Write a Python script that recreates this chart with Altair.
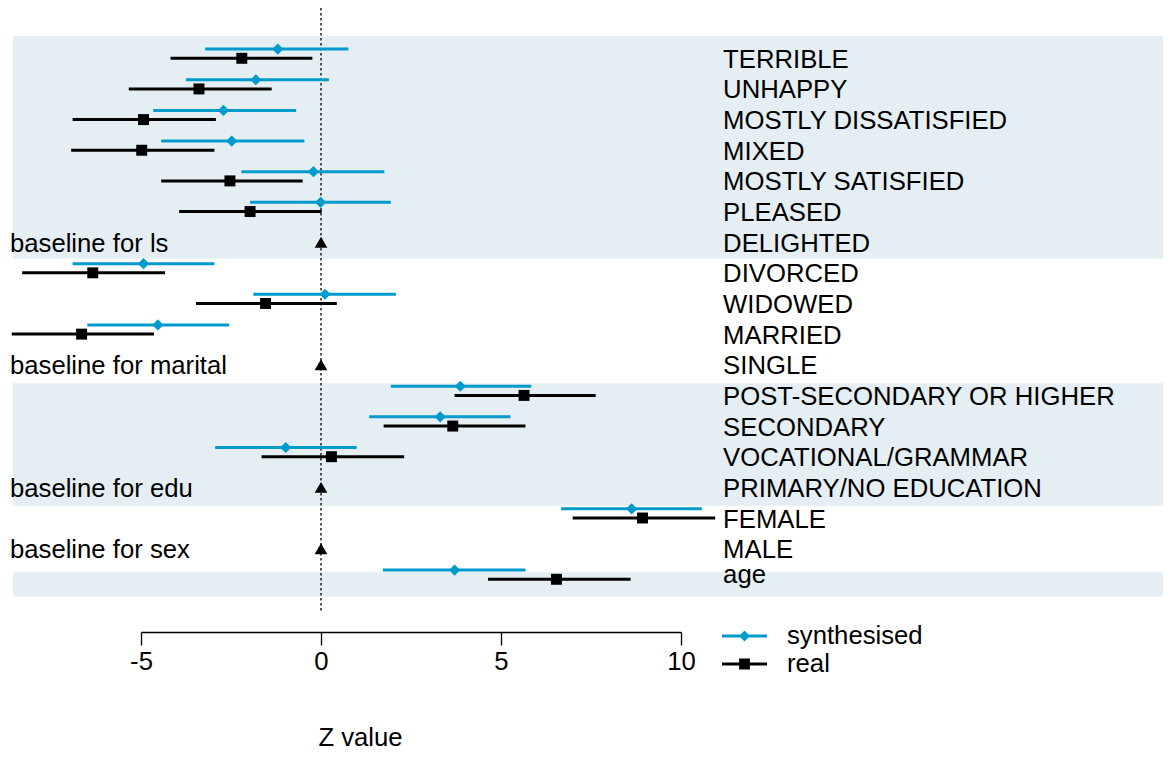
import altair as alt
import pandas as pd

# ---------------- data ----------------
labels = ["TERRIBLE", "UNHAPPY", "MOSTLY DISSATISFIED", "MIXED", "MOSTLY SATISFIED",
          "PLEASED", "DELIGHTED", "DIVORCED", "WIDOWED", "MARRIED", "SINGLE",
          "POST-SECONDARY OR HIGHER", "SECONDARY", "VOCATIONAL/GRAMMAR",
          "PRIMARY/NO EDUCATION", "FEMALE", "MALE", "age"]
label_rows = [0, 1, 2, 3, 4, 5, 6, 7, 8, 9, 10, 11, 12, 13, 14, 15, 16, 16.8]

est_rows = [0, 1, 2, 3, 4, 5, 7, 8, 9, 11, 12, 13, 15, 17]
synth_est = [-1.20, -1.81, -2.71, -2.48, -0.21, -0.01, -4.93, 0.11, -4.53, 3.87, 3.31, -0.98, 8.63, 3.71]
synth_lo = [-3.22, -3.75, -4.66, -4.44, -2.21, -1.97, -6.90, -1.88, -6.49, 1.94, 1.34, -2.94, 6.67, 1.72]
synth_hi = [0.76, 0.22, -0.69, -0.46, 1.76, 1.94, -2.96, 2.08, -2.55, 5.84, 5.26, 0.99, 10.58, 5.68]
real_est = [-2.20, -3.39, -4.93, -4.98, -2.53, -1.97, -6.34, -1.54, -6.65, 5.64, 3.66, 0.29, 8.93, 6.54]
real_lo = [-4.18, -5.34, -6.90, -6.94, -4.44, -3.94, -8.30, -3.47, -8.59, 3.71, 1.74, -1.65, 6.99, 4.64]
real_hi = [-0.24, -1.37, -2.92, -2.96, -0.51, 0.02, -4.33, 0.44, -4.64, 7.63, 5.68, 2.31, 10.95, 8.60]
synth_shift = 0.3  # synthesised estimate drawn slightly above the real one

baseline_rows = [6, 10, 14, 16]
baseline_names = ["baseline for ls", "baseline for marital", "baseline for edu", "baseline for sex"]
baseline_value = [0, 0, 0, 0]

band_top = [-0.73, 10.6, 16.77]
band_bottom = [6.53, 14.6, 17.56]
band_left = -8.556
band_right = 23.6

ref_line_x = [0]
ref_line_top = [-1.64]
ref_line_bottom = [18.07]

right_label_x = 11.17
left_label_x = -8.64

series_names = ["synthesised", "real"]
CYAN = "#009ACD"
BLACK = "#000000"
BAND = "#E4EEF3"
FONT = "Liberation Sans"
FS = 25.7

# ---------------- frames ----------------
est_df = pd.DataFrame({
    "row": est_rows,
    "srow": [r - synth_shift for r in est_rows],
    "s_est": synth_est, "s_lo": synth_lo, "s_hi": synth_hi,
    "r_est": real_est, "r_lo": real_lo, "r_hi": real_hi,
})
label_df = pd.DataFrame({"label": labels, "row": label_rows,
                         "x": [right_label_x] * len(labels)})
base_df = pd.DataFrame({"name": baseline_names, "row": baseline_rows,
                        "val": baseline_value, "x": [left_label_x] * len(baseline_rows)})
band_df = pd.DataFrame({"top": band_top, "bottom": band_bottom,
                        "l": [band_left] * len(band_top), "r": [band_right] * len(band_top)})
ref_df = pd.DataFrame({"x": ref_line_x, "top": ref_line_top, "bottom": ref_line_bottom})
legend_df = pd.DataFrame({"series": series_names})

# ---------------- scales ----------------
x_scale = alt.Scale(domain=[-5, 10], range=[131, 671], nice=False, zero=False)
y_scale = alt.Scale(domain=[0, 17], range=[50.3, 571.3], nice=False, zero=False)

x_axis = alt.Axis(values=[-5, 0, 5, 10], grid=False, domain=True, domainColor="black",
                  domainWidth=1.3, tickColor="black", tickWidth=1.3, tickSize=13,
                  labelFontSize=FS, labelFont=FONT, labelColor="black", labelPadding=4,
                  labelFlush=False, labelExpr="'' + datum.value",
                  title="Z value", titleFont=FONT, titleFontSize=FS,
                  titleFontWeight="normal", titleColor="black", titleX=350, titleY=105,
                  titleAlign="center", titleBaseline="middle")


def X(field):
    return alt.X(field, type="quantitative", scale=x_scale, axis=x_axis)


def Y(field):
    return alt.Y(field, type="quantitative", scale=y_scale, axis=None)


bands = alt.Chart(band_df).mark_rect(color=BAND).encode(
    x=X("l"), x2="r", y=Y("top"), y2="bottom")

ref = alt.Chart(ref_df).mark_rule(color="#111111", strokeWidth=1.4, strokeDash=[2.5, 2.5]).encode(
    x=X("x"), y=Y("top"), y2="bottom")

s_ci = alt.Chart(est_df).mark_rule(color=CYAN, strokeWidth=3).encode(
    x=X("s_lo"), x2="s_hi", y=Y("srow"))
s_pt = alt.Chart(est_df).mark_point(shape="diamond", filled=True, size=125, color=CYAN, opacity=1).encode(
    x=X("s_est"), y=Y("srow"))
r_ci = alt.Chart(est_df).mark_rule(color=BLACK, strokeWidth=3).encode(
    x=X("r_lo"), x2="r_hi", y=Y("row"))
r_pt = alt.Chart(est_df).mark_point(shape="square", filled=True, size=120, color=BLACK, opacity=1).encode(
    x=X("r_est"), y=Y("row"))
tri = alt.Chart(base_df).mark_point(shape="triangle-up", filled=True, size=160, color=BLACK, opacity=1).encode(
    x=X("val"), y=Y("row"))

right_text = alt.Chart(label_df).mark_text(align="left", baseline="middle", fontSize=FS, font=FONT,
                                           color="black", dy=1.5).encode(
    x=X("x"), y=Y("row"), text="label:N")
left_text = alt.Chart(base_df).mark_text(align="left", baseline="middle", fontSize=FS, font=FONT,
                                         color="black", dy=1.5).encode(
    x=X("x"), y=Y("row"), text="name:N")

synth_path = "M-1,-0.067H1V0.067H-1Z M0,-0.24L0.24,0L0,0.24L-0.24,0Z"
real_path = "M-1,-0.067H1V0.067H-1Z M-0.24,-0.24H0.24V0.24H-0.24Z"

leg = alt.Legend(title=None, orient="none", legendX=712, legendY=614, padding=0,
                 labelFontSize=FS, labelFont=FONT, labelColor="black", labelOffset=20,
                 clipHeight=28, rowPadding=0, symbolStrokeWidth=0, symbolSize=2025,
                 labelLimit=400, symbolOpacity=1)

legend_layer = alt.Chart(legend_df).mark_point(filled=True, size=2025, opacity=1).encode(
    color=alt.Color("series:N", scale=alt.Scale(domain=series_names, range=[CYAN, BLACK]), legend=leg),
    shape=alt.Shape("series:N", scale=alt.Scale(domain=series_names, range=[synth_path, real_path]), legend=leg),
).transform_filter("false")

chart = alt.layer(bands, ref, s_ci, s_pt, r_ci, r_pt, tri, right_text, left_text, legend_layer).properties(
    width=1153, height=624,
    autosize=alt.AutoSizeParams(type="none"),
    padding={"left": 2, "top": 0, "right": 0, "bottom": 117},
    background="white",
).configure_view(stroke=None)

chart.save("out.html", embed_options={"renderer": "svg", "actions": False})
